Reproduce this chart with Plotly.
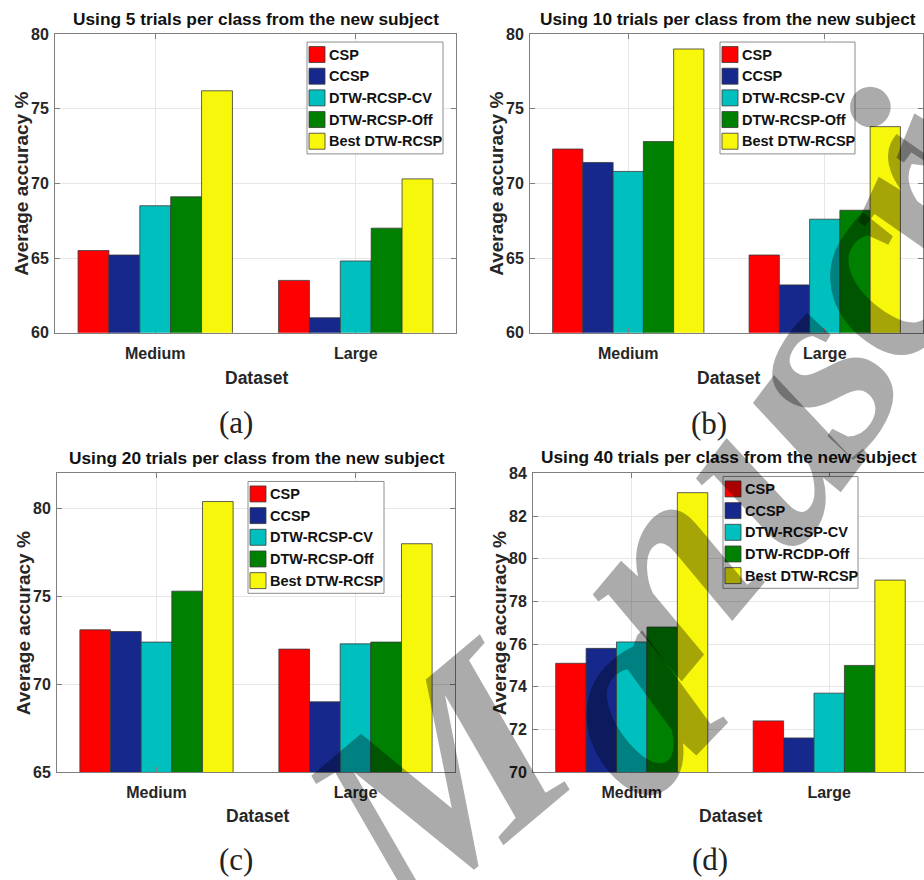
import plotly.graph_objects as go

W, H = 924, 880

# ---------------- data ----------------
CATEGORIES = ["Medium", "Large"]
SERIES = ["CSP", "CCSP", "DTW-RCSP-CV", "DTW-RCSP-Off", "Best DTW-RCSP"]
SERIES_D = ["CSP", "CCSP", "DTW-RCSP-CV", "DTW-RCDP-Off", "Best DTW-RCSP"]
COLORS = ["#ff0000", "#16288c", "#00bfbf", "#008000", "#f7f70c"]

# each row: one series, [Medium, Large]
VALUES_5 = [[65.5, 63.5], [65.2, 61.0], [68.5, 64.8], [69.1, 67.0], [76.2, 70.3]]
VALUES_10 = [[72.3, 65.2], [71.4, 63.2], [70.8, 67.6], [72.8, 68.2], [79.0, 73.8]]
VALUES_20 = [[73.1, 72.0], [73.0, 69.0], [72.4, 72.3], [75.3, 72.4], [80.4, 78.0]]
VALUES_40 = [[75.1, 72.4], [75.8, 71.6], [76.1, 73.7], [76.8, 75.0], [83.1, 79.0]]

YTICKS_5 = [60, 65, 70, 75, 80]
YTICKS_10 = [60, 65, 70, 75, 80]
YTICKS_20 = [65, 70, 75, 80]
YTICKS_40 = [70, 72, 74, 76, 78, 80, 82, 84]

TITLES = [
    "Using 5 trials per class from the new subject",
    "Using 10 trials per class from the new subject",
    "Using 20 trials per class from the new subject",
    "Using 40 trials per class from the new subject",
]
CAPTIONS = ["(a)", "(b)", "(c)", "(d)"]
X_TITLE = "Dataset"
Y_TITLE = "Average accuracy %"
WATERMARK = "Manuscript"

# ---------------- layout config (target pixels in the picture) ----------------
PANELS = [
    dict(vals=VALUES_5, labels=SERIES, yt=YTICKS_5, yr=[60, 80], xr=[-0.5, 1.5],
         dom=(55, 456, 34, 333), mirror_y=True,
         title_xy=(256, 19), xlab_xy=(256, 378), ylab_xy=(22, 184), cap_xy=(236, 423),
         leg=(307, 42, 443, 154)),
    dict(vals=VALUES_10, labels=SERIES, yt=YTICKS_10, yr=[60, 80], xr=[-0.5, 1.5],
         dom=(530, 923, 34, 333), mirror_y=True,
         title_xy=(728, 19), xlab_xy=(728, 378), ylab_xy=(497, 184), cap_xy=(709, 424),
         leg=(720, 42, 855, 154)),
    dict(vals=VALUES_20, labels=SERIES, yt=YTICKS_20, yr=[65, 82], xr=[-0.5, 1.5],
         dom=(57, 455, 474, 773), mirror_y=True,
         title_xy=(257, 459), xlab_xy=(257, 817), ylab_xy=(23, 624), cap_xy=(236, 861),
         leg=(248, 482, 384, 594)),
    dict(vals=VALUES_40, labels=SERIES_D, yt=YTICKS_40, yr=[70, 84], xr=[-0.5, 1.48],
         dom=(533, 924, 474, 773), mirror_y=False,
         title_xy=(729, 458), xlab_xy=(730, 817), ylab_xy=(499, 624), cap_xy=(710, 861),
         leg=(723, 477, 858, 589)),
]

# watermark letters: (centre x, y, angle)
WM_POS = [(438, 781, -40), (624, 699, -46), (656, 570, -50), (760, 448, -53),
          (808, 370, -57), (862, 276, -61), (906, 196, -65), (935, 150, -68)]

# the photographed page is offset/compressed slightly in y relative to layout pixels
Y_OFF, Y_SCALE = 7.9, 0.982

SANS = "Liberation Sans, Arial, sans-serif"
SERIF = "Liberation Serif, Times New Roman, serif"
TXT = "#262626"
AX = "#7f7f7f"


def px(x):
    return x / W


def py(y):
    return 1 - ((y - Y_OFF) / Y_SCALE) / H


fig = go.Figure()
layout = dict(
    width=W, height=H, margin=dict(l=0, r=0, t=0, b=0),
    paper_bgcolor="white", plot_bgcolor="white",
    barmode="group", bargap=0.23, bargroupgap=0.0,
    showlegend=False,
)
annotations = []
shapes = []

for k, p in enumerate(PANELS):
    n = "" if k == 0 else str(k + 1)
    for i, name in enumerate(SERIES):
        fig.add_trace(go.Bar(
            x=CATEGORIES, y=p["vals"][i], name=p["labels"][i],
            marker=dict(color=COLORS[i], line=dict(color="#3a3a3a", width=0.8)),
            xaxis="x" + n, yaxis="y" + n, showlegend=False,
        ))
    x0, x1, y0, y1 = p["dom"]
    layout["xaxis" + n] = dict(
        domain=[px(x0), px(x1)], range=p["xr"], anchor="y" + n, type="category",
        showline=True, linecolor=AX, linewidth=1, mirror="ticks",
        ticks="inside", ticklen=5, tickcolor=AX,
        showgrid=True, gridcolor="#e6e6e6", gridwidth=1,
        tickfont=dict(family=SANS, size=16, color=TXT, weight="bold"),
        ticklabelstandoff=6, fixedrange=True,
    )
    layout["yaxis" + n] = dict(
        domain=[py(y1), py(y0)], range=p["yr"], anchor="x" + n,
        tickvals=p["yt"], ticktext=[str(v) for v in p["yt"]],
        showline=True, linecolor=AX, linewidth=1,
        mirror="ticks" if p["mirror_y"] else False,
        ticks="inside", ticklen=5, tickcolor=AX,
        showgrid=True, gridcolor="#e6e6e6", gridwidth=1, zeroline=False,
        tickfont=dict(family=SANS, size=16, color=TXT, weight="bold"),
        ticklabelstandoff=2, fixedrange=True,
    )
    # titles, axis titles, captions
    tx, ty = p["title_xy"]
    annotations.append(dict(text=TITLES[k], x=px(tx), y=py(ty), xref="paper", yref="paper",
                            showarrow=False, xanchor="center", yanchor="middle",
                            font=dict(family=SANS, size=17.3, color="#111", weight="bold")))
    tx, ty = p["xlab_xy"]
    annotations.append(dict(text=X_TITLE, x=px(tx), y=py(ty), xref="paper", yref="paper",
                            showarrow=False, xanchor="center", yanchor="middle",
                            font=dict(family=SANS, size=17.5, color=TXT, weight="bold")))
    tx, ty = p["ylab_xy"]
    annotations.append(dict(text=Y_TITLE, x=px(tx), y=py(ty), xref="paper", yref="paper",
                            showarrow=False, xanchor="center", yanchor="middle", textangle=-90,
                            font=dict(family=SANS, size=19, color=TXT, weight="bold")))
    tx, ty = p["cap_xy"]
    annotations.append(dict(text=CAPTIONS[k], x=px(tx), y=py(ty), xref="paper", yref="paper",
                            showarrow=False, xanchor="center", yanchor="middle",
                            font=dict(family=SERIF, size=31, color="#222")))
    # legend box
    L, T, R, B = p["leg"]
    shapes.append(dict(type="rect", xref="paper", yref="paper", layer="above",
                       x0=px(L), x1=px(R), y0=py(B), y1=py(T),
                       fillcolor="white", line=dict(color="#8c8c8c", width=1)))
    for i, lab in enumerate(p["labels"]):
        cy = T + 12.5 + 21.7 * i
        shapes.append(dict(type="rect", xref="paper", yref="paper", layer="above",
                           x0=px(L + 2), x1=px(L + 18), y0=py(cy + 8), y1=py(cy - 8),
                           fillcolor=COLORS[i], line=dict(color="#3a3a3a", width=0.8)))
        annotations.append(dict(text=lab, x=px(L + 20), y=py(cy), xref="paper", yref="paper",
                                showarrow=False, xanchor="left", yanchor="middle",
                                font=dict(family=SANS, size=14.5, color="#111", weight="bold")))

# watermark
for ch, (wx, wy, ang) in zip(WATERMARK, WM_POS):
    annotations.append(dict(text=ch, x=px(wx), y=py(wy), xref="paper", yref="paper",
                            showarrow=False, xanchor="center", yanchor="middle",
                            textangle=ang,
                            font=dict(family=SERIF, size=270, color="rgba(0,0,0,0.33)",
                                      style="italic", weight="bold")))

layout["annotations"] = annotations
layout["shapes"] = shapes
fig.update_layout(**layout)

PAGE_FIX = (
    "var d=document.documentElement,b=document.body;"
    "d.style.margin='0';d.style.padding='0';d.style.overflow='hidden';"
    "b.style.margin='0';b.style.padding='0';b.style.overflow='hidden';"
    "b.style.height='880px';"
)
fig.write_html("out.html", config={"displayModeBar": False}, post_script=PAGE_FIX)
